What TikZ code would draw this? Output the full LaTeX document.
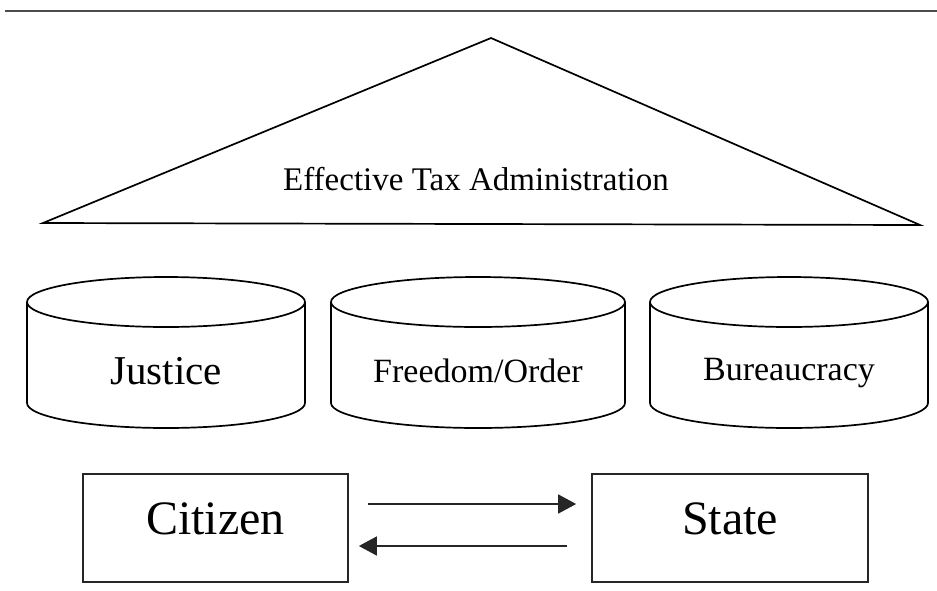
\documentclass[tikz,border=0pt]{standalone}
\usepackage{fontspec}
\setmainfont{Liberation Serif}
\usepackage{tikz}
\usetikzlibrary{positioning, arrows.meta}

\begin{document}
\begin{tikzpicture}[x=1pt,y=-1pt,>={Triangle[length=18pt,width=19pt]}]

	\tikzstyle{pillar}=[line width=1.7pt,draw=black]
	\tikzstyle{box}=[draw=black!85,line width=1.7pt,minimum width=265pt,minimum height=108pt,inner sep=0pt,text depth=18pt,font=\fontsize{48pt}{48pt}\selectfont]
	\tikzstyle{link}=[->,line width=1.6pt,black!85]

	\useasboundingbox (0,0) rectangle (937,590);

	% top rule
	\draw[black!70,line width=1.4pt] (5,11) -- (937,11);

	% roof
	\draw[line width=1.7pt] (491,38) -- (920,225) -- (43,223) -- cycle;
	\node[anchor=base,font=\fontsize{33pt}{33pt}\selectfont] (eta) at (476,190) {Effective Tax Administration};

	% pillars
	\foreach \cx/\rx/\nm/\txt/\fs/\bl in {166/139/justice/Justice/41/384,
		478/147/freedom/{Freedom/Order}/34/382,
		789/139/bureau/Bureaucracy/34/380}{
		\draw[pillar] (\cx-\rx,302) -- (\cx-\rx,403)
			arc[start angle=180,end angle=360,x radius=\rx pt,y radius=25pt] -- (\cx+\rx,302);
		\draw[pillar] (\cx,302) ellipse[x radius=\rx pt,y radius=25pt];
		\node[anchor=base,font=\fontsize{\fs pt}{\fs pt}\selectfont] (\nm) at (\cx,\bl) {\txt};
	}

	% base
	\node[box] (citizen) at (215.5,528) {Citizen};
	\node[box,minimum width=276pt] (state) at (730,528) {State};

	\draw[link,shorten <=19pt,shorten >=15pt] ([yshift=24pt]citizen.east) -- ([yshift=24pt]state.west);
	\draw[link,shorten <=24pt,shorten >=10pt] ([yshift=-18pt]state.west) -- ([yshift=-18pt]citizen.east);
\end{tikzpicture}
\end{document}
